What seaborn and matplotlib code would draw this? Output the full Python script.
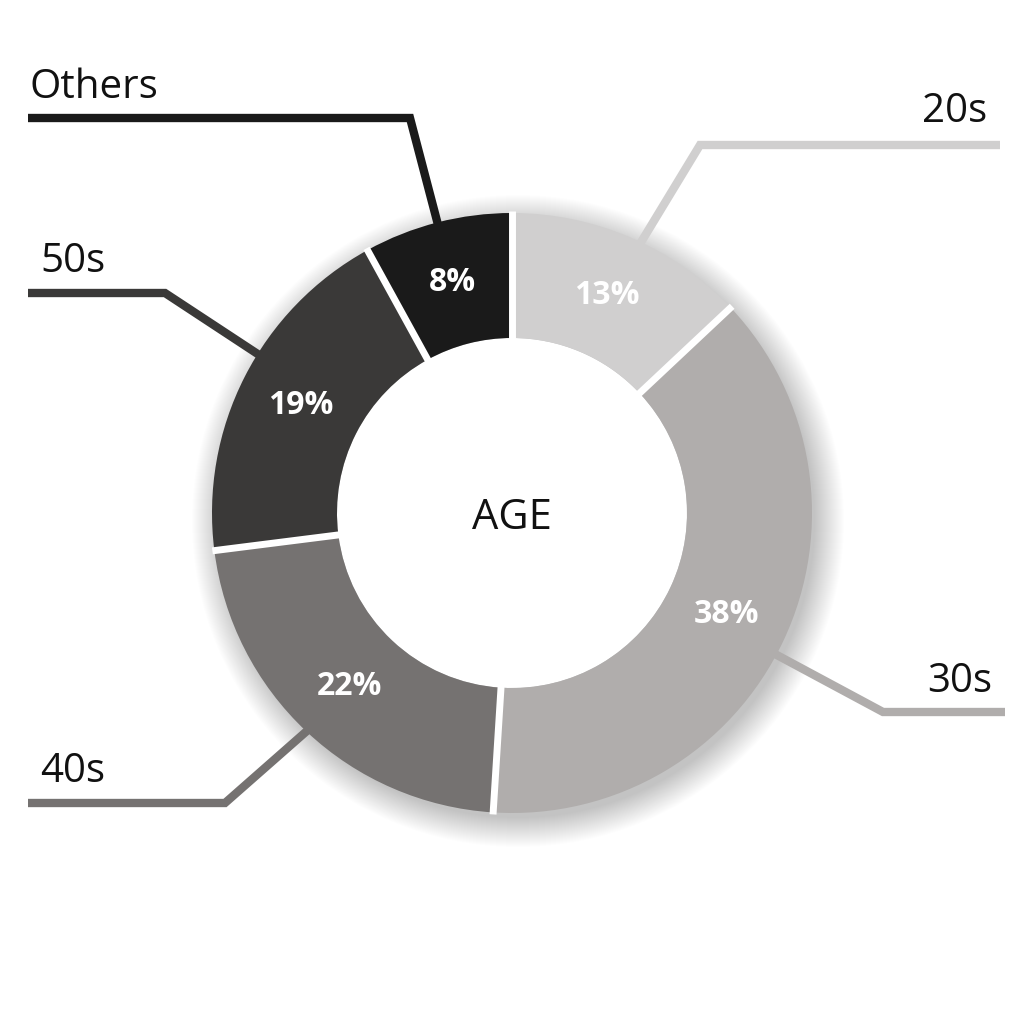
import numpy as np
import matplotlib
matplotlib.use("Agg")
import matplotlib.pyplot as plt
from matplotlib.patches import Circle
import seaborn as sns

# Data
groups = ["20s", "30s", "40s", "50s", "Others"]
shares = [13, 38, 22, 19, 8]
colors = ["#d0cfcf", "#b0adac", "#757271", "#3a3938", "#1a1a1a"]

sns.set_theme(style="white")
plt.rcParams["font.family"] = ["Open Sans", "DejaVu Sans"]

W, H = 1024, 1016
fig = plt.figure(figsize=(W / 100, H / 100), dpi=100)
ax = fig.add_axes([0, 0, 1, 1])

cx, cy = 512, H - 513
r_out, r_in = 300, 175

# soft shadow behind the ring
for i in range(30):
    ax.add_patch(Circle((cx + 6, cy - 8), r_out + 26 - i, color="#000000",
                        alpha=0.006, lw=0, zorder=0))
ax.add_patch(Circle((cx, cy), r_in, color="white", lw=0, zorder=1))

wedges, _, pcts = ax.pie(
    shares, colors=colors, startangle=90, counterclock=False,
    radius=r_out, center=(cx, cy),
    autopct=lambda p: f"{p:.0f}%", pctdistance=(r_out + r_in) / 2 / r_out,
    wedgeprops=dict(width=r_out - r_in, linewidth=0),
    textprops=dict(color="white", fontsize=23, fontweight="bold"),
)
for w in wedges:
    w.set_zorder(2)
for t in pcts:
    t.set_zorder(3)

# white gaps between segments
for w in wedges:
    a = np.deg2rad(w.theta1)
    ax.plot([cx + (r_in - 2) * np.cos(a), cx + (r_out + 2) * np.cos(a)],
            [cy + (r_in - 2) * np.sin(a), cy + (r_out + 2) * np.sin(a)],
            color="white", lw=5, solid_capstyle="butt", zorder=2.5)

ax.set_xlim(0, W)
ax.set_ylim(0, H)
ax.set_aspect("equal")
ax.axis("off")

ax.text(cx, cy - 5, "AGE", ha="center", va="center", fontsize=30,
        color="#111111", zorder=3)

# leader lines: start angle offset, elbow point, end x, label anchor
offsets = {"20s": -2, "30s": -3, "40s": 0, "50s": -5, "Others": 0}
elbows = {"20s": (700, 145), "30s": (883, 712), "40s": (225, 803),
          "50s": (165, 293), "Others": (410, 118)}
ends = {"20s": 1000, "30s": 1005, "40s": 28, "50s": 28, "Others": 28}
labels = {"20s": (987, 122, "right"), "30s": (992, 692, "right"),
          "40s": (40, 782, "left"), "50s": (40, 272, "left"),
          "Others": (30, 98, "left")}

for w, g, c in zip(wedges, groups, colors):
    mid = np.deg2rad((w.theta1 + w.theta2) / 2 + offsets[g])
    sx = cx + (r_out - 4) * np.cos(mid)
    sy = cy + (r_out - 4) * np.sin(mid)
    ex, ey = elbows[g]
    ey = H - ey
    ax.plot([sx, ex, ends[g]], [sy, ey, ey], color=c, lw=6,
            solid_capstyle="butt", solid_joinstyle="miter", zorder=1.5)
    lx, ly, ha = labels[g]
    ax.text(lx, H - ly, g, ha=ha, va="baseline", fontsize=29, color="#111111")

fig.savefig("out.png", dpi=100, facecolor="white")
